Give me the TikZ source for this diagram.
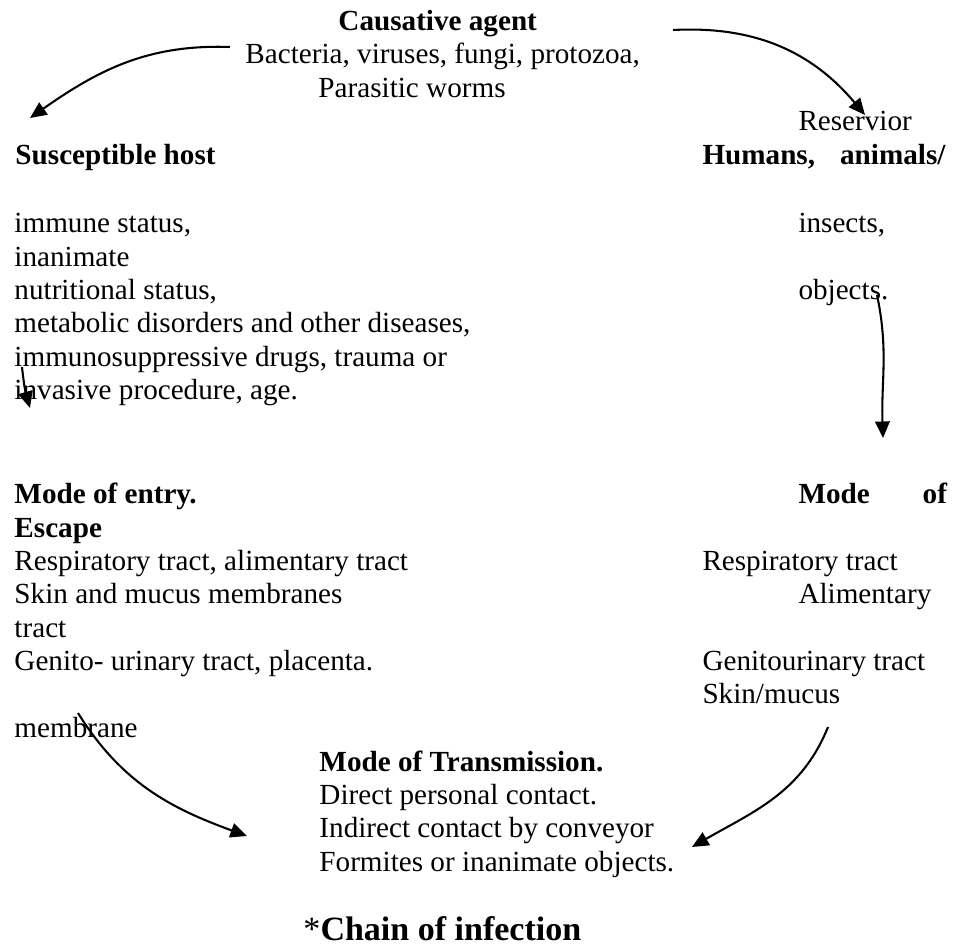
\documentclass[tikz,border=0pt]{standalone}
\usepackage{fontspec}
\setmainfont{Liberation Serif}
\usetikzlibrary{arrows.meta}
\begin{document}
\begin{tikzpicture}[x=0.4115pt,y=0.4115pt]
            \definecolor{ink_color}{RGB}{0,0,0}
            \tikzstyle{every node} = [inner sep=0pt, anchor=base west, text=ink_color, font=\fontsize{12}{13.8}\selectfont]
            \tikzstyle{head} = [font=\fontsize{12}{13.8}\selectfont\bfseries]
            \tikzstyle{link} = [line width=0.85pt, draw=ink_color, -{Triangle[length=6.8pt,width=6pt]}]
            \useasboundingbox[fill=white] (0,0) rectangle (958,-950);
            % causative agent
            \node[head] (agent) at (338,-31) {Causative agent};
            \node (agent1) at (245,-64) {Bacteria, viruses, fungi, protozoa,};
            \node (agent2) at (318,-98) {Parasitic worms};
            % reservoir
            \node (res) at (798,-131) {Reservior};
            \node[head] (res1) at (702,-165) {Humans,\hspace{10.3pt}animals/};
            \node (res2) at (798,-233) {insects,};
            \node (res3) at (798,-300) {objects.};
            % susceptible host
            \node[head] (host) at (15,-165) {Susceptible host};
            \node (host1) at (14,-233) {immune status,};
            \node (host2) at (14,-267) {inanimate};
            \node (host3) at (14,-300) {nutritional status,};
            \node (host4) at (14,-333) {metabolic disorders and other diseases,};
            \node (host5) at (14,-367) {immunosuppressive drugs, trauma or};
            \node (host6) at (14,-400) {invasive procedure, age.};
            % mode of entry
            \node[head] (entry) at (14,-503) {Mode of entry.};
            \node[head] (entry1) at (14,-537) {Escape};
            \node (entry2) at (14,-570) {Respiratory tract, alimentary tract};
            \node (entry3) at (14,-603) {Skin and mucus membranes};
            \node (entry4) at (14,-637) {tract};
            \node (entry5) at (14,-670) {Genito- urinary tract, placenta.};
            \node (entry6) at (14,-737) {membrane};
            % mode of escape
            \node[head] (esc) at (798,-503) {Mode\hspace{21.8pt}of};
            \node (esc1) at (702,-570) {Respiratory tract};
            \node (esc2) at (798,-603) {Alimentary};
            \node (esc3) at (702,-670) {Genitourinary tract};
            \node (esc4) at (702,-703) {Skin/mucus};
            % mode of transmission
            \node[head] (trans) at (319,-771) {Mode of Transmission.};
            \node (trans1) at (319,-804) {Direct personal contact.};
            \node (trans2) at (319,-837) {Indirect contact by conveyor};
            \node (trans3) at (319,-871) {Formites or inanimate objects.};
            \node[font=\fontsize{14}{16.1}\selectfont] (title) at (303,-940) {*\textbf{Chain of infection}};
            % arrow ends
            \coordinate (a0) at (230,-47);
            \coordinate (a1) at (30,-118);
            \coordinate (b0) at (673,-30);
            \coordinate (b1) at (865,-115);
            \coordinate (c0) at (22,-367);
            \coordinate (c1) at (30,-408);
            \coordinate (d0) at (877,-295);
            \coordinate (d1) at (883,-438);
            \coordinate (e0) at (828,-727);
            \coordinate (e1) at (692,-847);
            \coordinate (f0) at (78,-713);
            \coordinate (f1) at (247,-836);
            \draw[link] (a0) to[out=178, in=35] (a1);
            \draw[link] (b0) to[out=3, in=130] (b1);
            \draw[link] (c0) to[bend right=5] (c1);
            \draw[link] (d0) to[out=-78, in=92] (d1);
            \draw[link] (e0) to[out=248, in=30] (e1);
            \draw[link] (f0) to[out=-58, in=160] (f1);
\end{tikzpicture}
\end{document}
